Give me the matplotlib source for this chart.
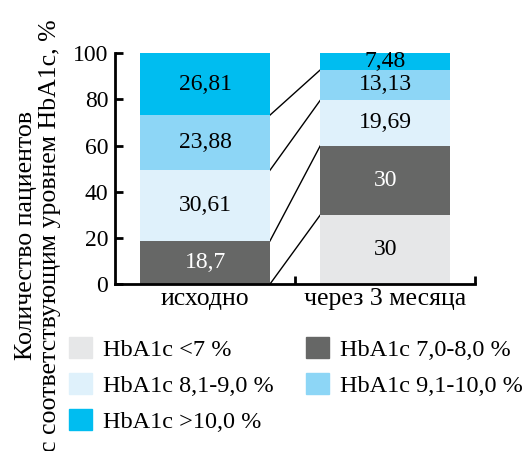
import matplotlib.pyplot as plt
from matplotlib.patches import Patch
import numpy as np

plt.rcParams['font.family'] = ['Liberation Serif', 'DejaVu Serif']

groups = ['исходно', 'через 3 месяца']
categories = ['HbA1c <7 %', 'HbA1c 7,0-8,0 %', 'HbA1c 8,1-9,0 %',
              'HbA1c 9,1-10,0 %', 'HbA1c >10,0 %']
# значения по категориям для каждой группы
baseline = [0, 18.7, 30.61, 23.88, 26.81]
after_3m = [30, 30, 19.69, 13.13, 7.48]
labels_base = ['', '18,7', '30,61', '23,88', '26,81']
labels_after = ['30', '30', '19,69', '13,13', '7,48']

colors = ['#e6e7e8', '#666766', '#dff1fb', '#8dd6f6', '#00bdf0']
text_colors = ['black', 'white', 'black', 'black', 'black']

fig = plt.figure(figsize=(5.28, 4.51), dpi=100)
ax = fig.add_axes([0.218, 0.370, 0.682, 0.512])

width = 0.72
x = np.arange(len(groups))
data = np.array([baseline, after_3m])
labels = [labels_base, labels_after]
bottoms = np.zeros(len(groups))
for k in range(len(categories)):
    vals = data[:, k]
    ax.bar(x, vals, width=width, bottom=bottoms, color=colors[k], zorder=2)
    for i in range(len(groups)):
        if vals[i] > 0:
            ax.text(x[i], bottoms[i] + vals[i] / 2, labels[i][k], ha='center', va='center',
                    fontsize=17, color=text_colors[k], zorder=3)
    bottoms = bottoms + vals

# соединительные линии между столбцами
tops = np.cumsum(data, axis=1)
for k in range(len(categories) - 1):
    ax.plot([x[0] + width / 2, x[1] - width / 2], [tops[0, k], tops[1, k]],
            color='black', lw=1, zorder=1)

ax.set_xlim(-0.5, 1.5)
ax.set_ylim(0, 100)
ax.set_yticks([0, 20, 40, 60, 80, 100])
ax.set_xticks(x)
ax.set_xticklabels(groups)
ax.set_xticks([0.5, 1.5], minor=True)
ax.tick_params(axis='x', which='major', length=0, labelsize=18.5, pad=3)
ax.tick_params(axis='x', which='minor', direction='in', length=6, width=2)
ax.tick_params(axis='y', direction='in', length=6, width=2, labelsize=17, pad=5)
ax.spines['top'].set_visible(False)
ax.spines['right'].set_visible(False)
ax.spines['left'].set_linewidth(2)
ax.spines['bottom'].set_linewidth(2)

fig.text(0.072, 0.478, 'Количество пациентов\nс соответствующим уровнем HbA1c, %',
         rotation=90, ha='center', va='center', fontsize=18.6, linespacing=1.12)

order = [0, 2, 4, 1, 3]
handles = [Patch(color=colors[i]) for i in order]
fig.legend(handles, [categories[i] for i in order], ncol=2, loc='upper left',
           bbox_to_anchor=(0.13, 0.253), frameon=False, fontsize=17.5,
           handlelength=0.95, handleheight=0.95, handletextpad=0.45,
           columnspacing=1.35, labelspacing=0.5, borderpad=0, borderaxespad=0)

fig.savefig('out.png', dpi=100)
